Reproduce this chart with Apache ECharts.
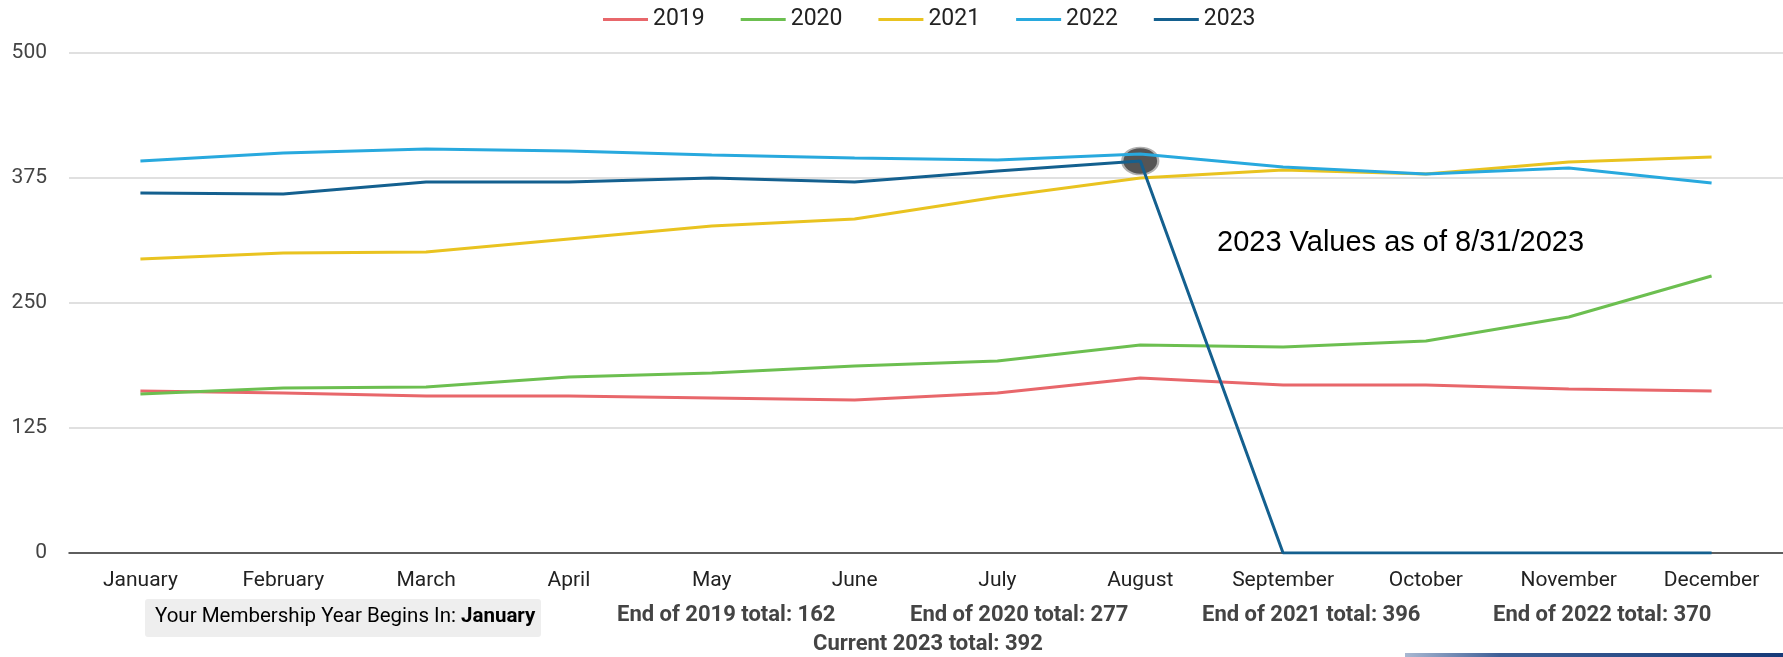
<!DOCTYPE html>
<html>
<head>
<meta charset="utf-8">
<script src="https://cdn.jsdelivr.net/npm/echarts@6/dist/echarts.min.js"></script>
<style>
html,body{margin:0;padding:0;background:#fff;}
#chart{width:1783px;height:657px;}
</style>
</head>
<body>
<div id="chart"></div>
<script>
const months = ['January','February','March','April','May','June','July','August','September','October','November','December'];
const v2019 = [162,160,157,157,155,153,160,175,168,168,164,162];
const v2020 = [159,165,166,176,180,187,192,208,206,212,236,277];
const v2021 = [294,300,301,314,327,334,356,375,383,379,391,396];
const v2022 = [392,400,404,402,398,395,393,399,386,379,385,370];
const v2023 = [360,359,371,371,375,371,382,392,0,0,0,0];
const yTicks = [0,125,250,375,500];
const seriesNames = ['2019','2020','2021','2022','2023'];
const seriesColors = ['#e8676b','#6cbf50','#e9c320','#28a9de','#14608f'];
const seriesValues = [v2019,v2020,v2021,v2022,v2023];
const annotation = '2023 Values as of 8/31/2023';
const totals = ['End of 2019 total: 162','End of 2020 total: 277','End of 2021 total: 396','End of 2022 total: 370'];
const currentTotal = 'Current 2023 total: 392';

const chart = echarts.init(document.getElementById('chart'), null, {renderer:'canvas'});
const FONT = 'Roboto';

const series = seriesNames.map((n,i)=>({
  name:n, type:'line', data:seriesValues[i], symbol:'none', smooth:false,
  lineStyle:{color:seriesColors[i], width:3}, itemStyle:{color:seriesColors[i]},
  z: 2+i,
  markPoint: n==='2023' ? {
    symbol:'circle', symbolSize:[36,27], label:{show:false},
    itemStyle:{color:'#555555', borderColor:'#b0b0b0', borderWidth:2},
    data:[{coord:['August', v2023[7]]}]
  } : undefined
}));

chart.setOption({
  animation:false,
  textStyle:{fontFamily:FONT},
  legend:{
    data:seriesNames.map(n=>({name:n, icon:'rect'})), left:603, top:8, padding:0,
    itemWidth:45, itemHeight:3, itemGap:36,
    textStyle:{fontSize:23, color:'#222', fontFamily:FONT}
  },
  grid:{left:69, right:0, top:53, bottom:104, containLabel:false},
  xAxis:{
    type:'category', data:months, boundaryGap:true,
    axisLine:{show:true, lineStyle:{color:'#333', width:1.5}},
    axisTick:{show:false},
    axisLabel:{fontSize:21, color:'#222', margin:17, fontFamily:FONT, interval:0}
  },
  yAxis:{
    type:'value', min:yTicks[0], max:yTicks[yTicks.length-1], interval:125,
    axisLine:{show:false}, axisTick:{show:false},
    axisLabel:{fontSize:21, color:'#444', margin:22, fontFamily:FONT},
    splitLine:{lineStyle:{color:'#d6d6d6', width:1.5}}
  },
  series:series,
  graphic:[
    {type:'text', left:1217, top:228, style:{text:annotation, font:'29px "Liberation Sans", Arial, sans-serif', fill:'#000'}},
    {type:'rect', shape:{x:145, y:599, width:396, height:38, r:3}, style:{fill:'#eeeeee'}},
    {type:'text', left:155, top:606, style:{
      text:'{n|Your Membership Year Begins In: }{b|January}',
      rich:{n:{fontSize:20.5, fontFamily:FONT, color:'#444'}, b:{fontSize:20.5, fontFamily:FONT, fontWeight:'bold', color:'#333'}}
    }},
    {type:'text', left:617, top:604, style:{text:totals[0], font:'bold 22px Roboto', fill:'#444'}},
    {type:'text', left:910, top:604, style:{text:totals[1], font:'bold 22px Roboto', fill:'#444'}},
    {type:'text', left:1202, top:604, style:{text:totals[2], font:'bold 22px Roboto', fill:'#444'}},
    {type:'text', left:1493, top:604, style:{text:totals[3], font:'bold 22px Roboto', fill:'#444'}},
    {type:'text', left:813, top:633, style:{text:currentTotal, font:'bold 22px Roboto', fill:'#444'}},
    {type:'rect', shape:{x:1405, y:653, width:378, height:4}, style:{fill:new echarts.graphic.LinearGradient(0,0,1,0,[{offset:0,color:'#a9b8d2'},{offset:0.25,color:'#3e5f97'},{offset:1,color:'#163a78'}])}}
  ]
});
</script>
</body>
</html>
